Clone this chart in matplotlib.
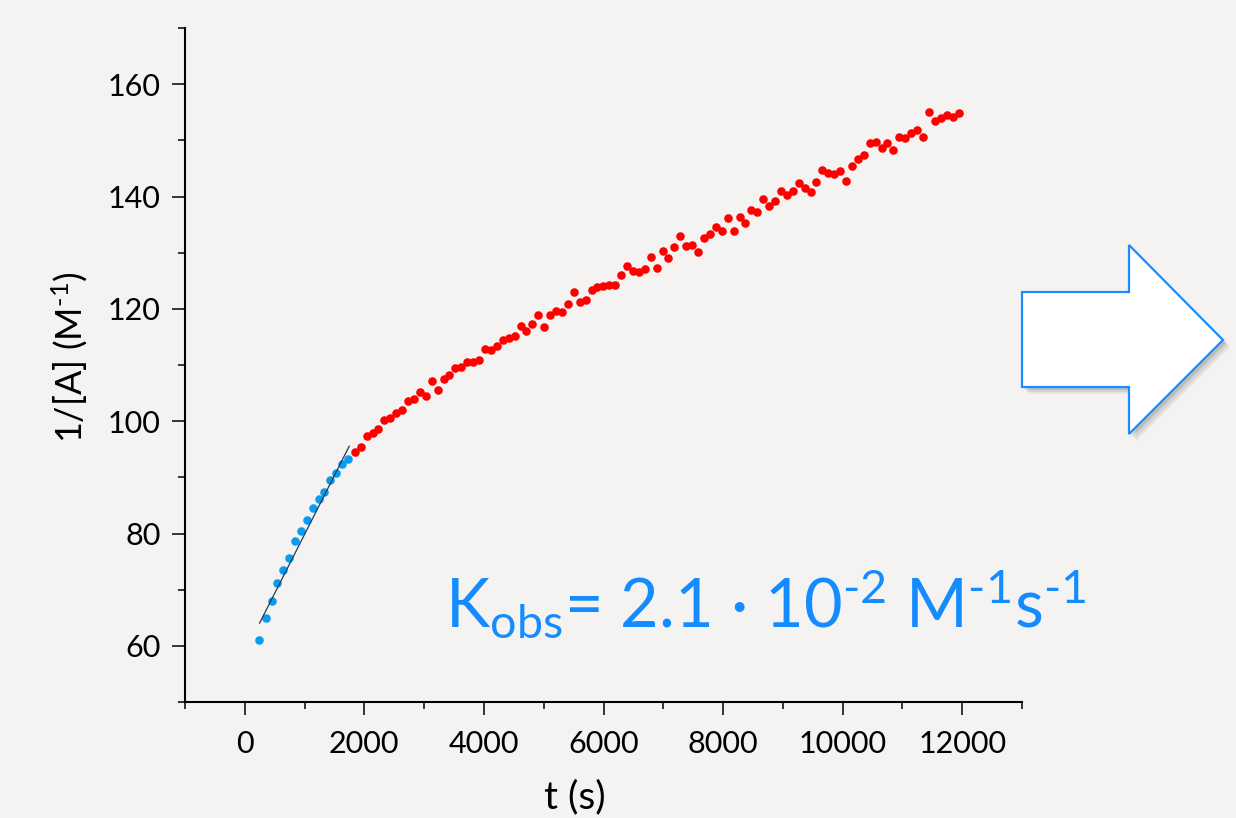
import matplotlib
matplotlib.use("Agg")
import matplotlib.pyplot as plt
from matplotlib.ticker import MultipleLocator
from matplotlib.patches import Polygon

# early points (used for the linear fit)
t_blue = [233, 350, 450, 545, 645, 745, 838, 938, 1033, 1133, 1233, 1333, 1433, 1533, 1633, 1733]
inv_a_blue = [60.95, 64.87, 68.07, 71.23, 73.42, 75.69, 78.66, 80.45, 82.46, 84.47,
              86.08, 87.45, 89.47, 90.84, 92.32, 93.28]

# later points
t_red = [1840, 1939, 2038, 2137, 2236, 2335, 2434, 2533, 2632, 2731, 2830, 2929, 3028, 3127,
         3226, 3325, 3424, 3523, 3622, 3721, 3820, 3919, 4018, 4117, 4216, 4315, 4414, 4513,
         4612, 4711, 4810, 4909, 5008, 5107, 5206, 5305, 5404, 5503, 5602, 5701, 5800, 5899,
         5998, 6097, 6196, 6295, 6394, 6493, 6592, 6691, 6790, 6889, 6988, 7087, 7186, 7285,
         7384, 7483, 7582, 7681, 7780, 7879, 7978, 8077, 8176, 8275, 8374, 8473, 8572, 8671,
         8770, 8869, 8968, 9067, 9166, 9265, 9364, 9463, 9562, 9661, 9760, 9859, 9958, 10057,
         10156, 10255, 10354, 10453, 10552, 10651, 10750, 10849, 10948, 11047, 11146, 11245,
         11344, 11443, 11542, 11641, 11740, 11839, 11938]
inv_a_red = [94.52, 95.47, 97.37, 97.96, 98.55, 100.15, 100.63, 101.40, 102.05, 103.59,
             103.89, 105.26, 104.54, 107.15, 105.61, 107.51, 108.16, 109.41, 109.70, 110.47,
             110.53, 110.89, 112.85, 112.67, 113.32, 114.39, 114.86, 115.16, 117.00, 115.99,
             117.30, 118.90, 116.76, 118.90, 119.61, 119.43, 120.79, 122.93, 121.21, 121.63,
             123.40, 123.88, 124.06, 124.23, 124.18, 125.96, 127.56, 126.67, 126.55, 127.02,
             129.16, 127.32, 130.28, 128.98, 131.06, 132.95, 131.23, 131.41, 130.05, 132.66,
             133.37, 134.61, 133.78, 136.10, 133.84, 136.39, 135.33, 137.58, 137.17, 139.48,
             138.23, 139.18, 140.96, 140.25, 140.96, 142.33, 141.44, 140.84, 142.62, 144.64,
             144.16, 143.93, 144.46, 142.80, 145.47, 146.60, 147.43, 149.44, 149.68, 148.67,
             149.50, 148.26, 150.63, 150.33, 151.22, 151.81, 150.63, 155.02, 153.48, 154.01,
             154.54, 154.13, 154.84]

# linear fit over the early points
fit_t = [247, 1747]
fit_slope = 0.021
fit_intercept = 58.85

x_ticks = [0, 2000, 4000, 6000, 8000, 10000, 12000]
y_ticks = [60, 80, 100, 120, 140, 160]

bg = '#f4f3f2'
plt.rcParams['font.family'] = ['Lato', 'DejaVu Sans']
plt.rcParams['mathtext.fontset'] = 'custom'
plt.rcParams['mathtext.rm'] = 'Lato'
plt.rcParams['mathtext.it'] = 'Lato:italic'
plt.rcParams['mathtext.bf'] = 'Lato:bold'

W, H = 1236, 818
fig = plt.figure(figsize=(W / 100, H / 100), dpi=100, facecolor=bg)
ax = fig.add_axes([185 / W, 1 - 702 / H, (1022 - 185) / W, (702 - 28) / H])
ax.set_facecolor(bg)

ax.scatter(t_red, inv_a_red, s=38, color='#ff0000', linewidths=0, zorder=3)
ax.scatter(t_blue, inv_a_blue, s=38, color='#0a9cf0', linewidths=0, zorder=3)
ax.plot(fit_t, [fit_slope * t + fit_intercept for t in fit_t], color='#1d3b5a', lw=0.9, zorder=4)

ax.set_xlim(-1000, 13000)
ax.set_ylim(50, 170)
ax.set_xticks(x_ticks)
ax.set_yticks(y_ticks)
ax.xaxis.set_minor_locator(MultipleLocator(1000))
ax.yaxis.set_minor_locator(MultipleLocator(10))
for s in ['top', 'right']:
    ax.spines[s].set_visible(False)
for s in ['left', 'bottom']:
    ax.spines[s].set_linewidth(1.5)
ax.tick_params(which='major', direction='out', length=9.5, width=1.1, labelsize=22, pad=8)
ax.tick_params(which='minor', direction='out', length=5, width=1.1)
ax.tick_params(axis='x', which='major', pad=11)

fig.text(575 / W, 1 - 797 / H, 't (s)', fontsize=28, ha='center', va='center')
fig.text(70 / W, 1 - 357 / H, '1/[A] (M$^{\\text{-}1}$)', fontsize=26, ha='center',
         va='center', rotation=90)

fig.text(445 / W, 1 - 628 / H,
         'K$_{\\mathrm{obs}}$= 2.1 · 10$^{\\text{-}2}$ M$^{\\text{-}1}$s$^{\\text{-}1}$',
         fontsize=48, color='#148cff', ha='left', va='baseline')

# big arrow on the right, in pixel coordinates
arrow_px = [(1022, 292), (1129, 292), (1129, 245), (1223, 340),
            (1129, 434), (1129, 387), (1022, 387)]
for off, a in [(7, 0.06), (5, 0.08), (3, 0.1)]:
    sh = [((x + off) / W, 1 - (y + off) / H) for x, y in arrow_px]
    fig.patches.append(Polygon(sh, closed=True, transform=fig.transFigure,
                               facecolor='black', edgecolor='none', alpha=a))
arrow = [(x / W, 1 - y / H) for x, y in arrow_px]
fig.patches.append(Polygon(arrow, closed=True, transform=fig.transFigure,
                           facecolor='white', edgecolor='#1a8cff', lw=1.6, joinstyle='miter'))

fig.savefig('out.png', dpi=100, facecolor=bg)
